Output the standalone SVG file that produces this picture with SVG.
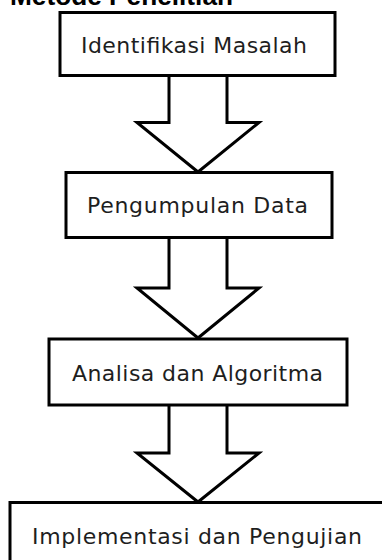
<svg xmlns="http://www.w3.org/2000/svg" width="382" height="560" viewBox="0 0 382 560">
<style>
.box{fill:#ffffff;stroke:#000000;stroke-width:3}
.arr{fill:#ffffff;stroke:#000000;stroke-width:3;stroke-linejoin:miter}
.lbl{font-family:"DejaVu Sans","Liberation Sans",sans-serif;font-size:22px;fill:#1e1e1e}
.title{font-family:"Liberation Sans",Arial,sans-serif;font-size:26px;font-weight:bold;fill:#000000}
</style>
<rect x="0" y="0" width="382" height="560" fill="#ffffff"/>
<text class="title" x="10" y="5" textLength="223" lengthAdjust="spacingAndGlyphs">Metode Penelitian</text>
<g id="connectors">
<path class="arr" d="M169,75 V122.5 H137 L198,172 L259,122.5 H227 V75"/>
<path class="arr" d="M169,238 V288 H137 L198,338 L259,288 H227 V238"/>
<path class="arr" d="M169,405 V453 H137 L198,502 L259,453 H227 V405"/>
</g>
<g id="node1">
<rect class="box" x="60" y="12.5" width="275" height="63"/>
<text class="lbl" x="81" y="53" textLength="226" lengthAdjust="spacing">Identifikasi Masalah</text>
</g>
<g id="node2">
<rect class="box" x="66" y="172.5" width="266" height="65"/>
<text class="lbl" x="87" y="213" textLength="221" lengthAdjust="spacing">Pengumpulan Data</text>
</g>
<g id="node3">
<rect class="box" x="49" y="339" width="298" height="66"/>
<text class="lbl" x="72" y="381" textLength="251" lengthAdjust="spacing">Analisa dan Algoritma</text>
</g>
<g id="node4">
<rect class="box" x="10" y="502.5" width="390" height="80"/>
<text class="lbl" x="32" y="544" textLength="330" lengthAdjust="spacing">Implementasi dan Pengujian</text>
</g>
</svg>
